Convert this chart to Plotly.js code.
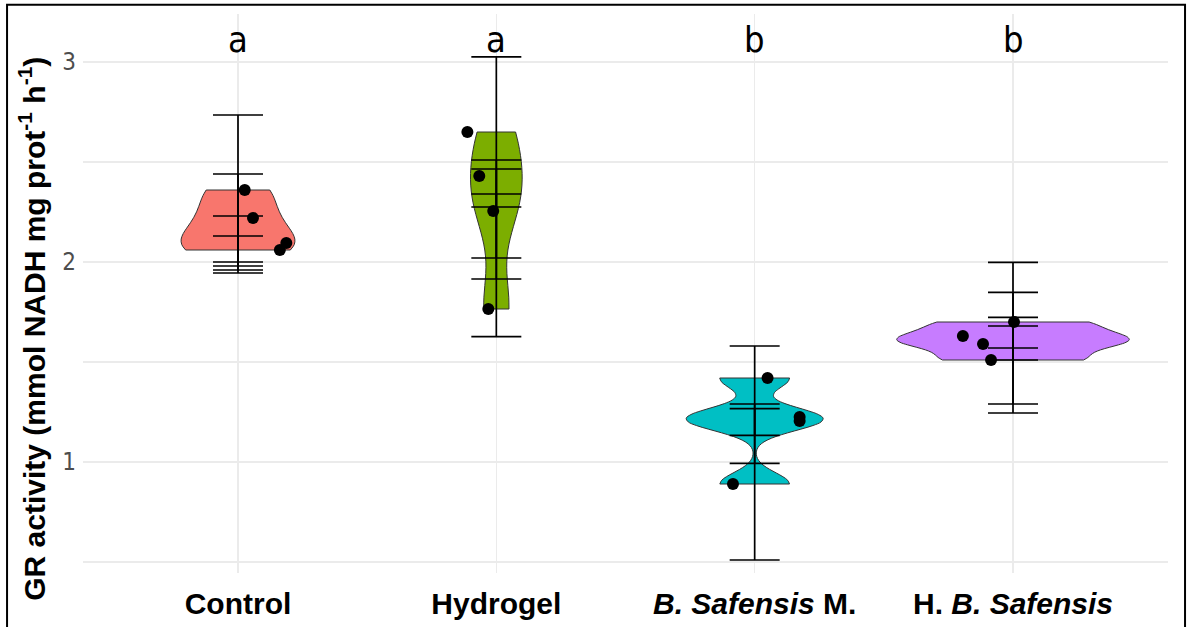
<!DOCTYPE html>
<html><head><meta charset="utf-8">
<script src="https://cdn.plot.ly/plotly-3.0.1.min.js"></script>
<style>html,body{margin:0;padding:0;background:#fff}#chart{width:1189px;height:627px}</style>
</head><body><div id="chart"></div>
<script>
// ---- data ----
const categories = ['Control', 'Hydrogel', 'B. Safensis M.', 'H. B. Safensis'];
const tickLabels = ['<b>Control</b>', '<b>Hydrogel</b>', '<b><i>B. Safensis</i> M.</b>', '<b>H. <i>B. Safensis</i></b>'];
const yTickValues = [1, 2, 3];
const yTickLabels = ['1', '2', '3'];
const groupLetters = ['a', 'a', 'b', 'b'];

const controlValues   = [2.36, 2.22, 2.06, 2.095];
const hydrogelValues  = [2.65, 2.43, 2.255, 1.765];
const safensisValues  = [1.42, 1.225, 1.205, 0.89];
const hSafensisValues = [1.70, 1.63, 1.59, 1.51];

// horizontal jitter of the dots (fraction of category spacing)
const controlJitter   = [0.026, 0.058, 0.162, 0.187];
const hydrogelJitter  = [-0.112, -0.066, -0.012, -0.031];
const safensisJitter  = [0.05, 0.174, 0.174, -0.084];
const hSafensisJitter = [0.004, -0.194, -0.116, -0.085];

// error-bar ends (upper / lower)
const controlBarUpper   = [2.735, 2.44, 2.23, 2.13];
const controlBarLower   = [1.945, 1.96, 1.98, 2.0];
const hydrogelBarUpper  = [3.026, 2.51, 2.465, 2.34];
const hydrogelBarLower  = [1.627, 1.915, 2.02, 2.275];
const safensisBarUpper  = [1.58, 1.29, 1.267];
const safensisBarLower  = [0.51, 0.993, 1.133];
const hSafensisBarUpper = [1.998, 1.848, 1.723, 1.68];
const hSafensisBarLower = [1.245, 1.29, 1.51, 1.57];

// ---- styles ----
const fills = ['#F8766D', '#7CAE00', '#00BFC4', '#C77CFF'];
const violinWidths = [0.44, 0.20, 0.53, 0.90];
const bwAdjust = [1, 1, 0.75, 1];
const narrow = '"Liberation Sans Narrow", "DejaVu Sans Condensed", "Arial Narrow", "Liberation Sans", sans-serif';

function quantile7(sorted, p) {
  const h = (sorted.length - 1) * p, lo = Math.floor(h), hi = Math.ceil(h);
  return sorted[lo] + (h - lo) * (sorted[hi] - sorted[lo]);
}
function nrd0(v) { // R's default bandwidth (as used by ggplot's geom_violin)
  const s = v.slice().sort((a, b) => a - b), n = v.length;
  const m = v.reduce((a, b) => a + b, 0) / n;
  const sd = Math.sqrt(v.reduce((a, b) => a + (b - m) * (b - m), 0) / (n - 1));
  const iqr = quantile7(s, 0.75) - quantile7(s, 0.25);
  return 0.9 * Math.min(sd, iqr / 1.34) * Math.pow(n, -0.2);
}

const groups = [
  {v: controlValues, j: controlJitter, up: controlBarUpper, lo: controlBarLower},
  {v: hydrogelValues, j: hydrogelJitter, up: hydrogelBarUpper, lo: hydrogelBarLower},
  {v: safensisValues, j: safensisJitter, up: safensisBarUpper, lo: safensisBarLower},
  {v: hSafensisValues, j: hSafensisJitter, up: hSafensisBarUpper, lo: hSafensisBarLower}
];

const traces = [];
groups.forEach((g, i) => {
  traces.push({
    type: 'violin', x0: i + 1, y: g.v, name: categories[i], orientation: 'v',
    width: violinWidths[i], bandwidth: nrd0(g.v) * bwAdjust[i], spanmode: 'hard',
    scalemode: 'width', points: false, box: {visible: false}, meanline: {visible: false},
    fillcolor: fills[i], line: {color: '#333333', width: 1}, opacity: 1,
    hoverinfo: 'skip', showlegend: false
  });
});
groups.forEach((g, i) => {
  traces.push({
    type: 'scatter', mode: 'markers', x: g.lo.map(() => i + 1), y: g.lo,
    marker: {size: 1, opacity: 0},
    error_y: {type: 'data', symmetric: false, array: g.up.map((u, k) => u - g.lo[k]),
              arrayminus: g.lo.map(() => 0), color: '#000', thickness: 1.7, width: 25},
    hoverinfo: 'skip', showlegend: false
  });
});
groups.forEach((g, i) => {
  traces.push({
    type: 'scatter', mode: 'markers', x: g.j.map(d => i + 1 + d), y: g.v,
    marker: {color: '#000', size: 12, symbol: 'circle'},
    hoverinfo: 'skip', showlegend: false
  });
});

const annotations = groupLetters.map((t, i) => ({
  x: i + 1, y: 3.115, xref: 'x', yref: 'y', text: t, showarrow: false,
  font: {family: narrow, size: 36, color: '#000'}, xanchor: 'center', yanchor: 'middle'
}));
annotations.push({
  x: -0.047, y: 0.437, xref: 'paper', yref: 'paper', textangle: -90, showarrow: false,
  xanchor: 'center', yanchor: 'middle',
  text: '<b>GR activity (mmol NADH mg prot<sup>-1</sup> h<sup>-1</sup>)</b>',
  font: {family: 'Liberation Sans, Arial, sans-serif', size: 30, color: '#000'}
});

const layout = {
  width: 1189, height: 627,
  margin: {l: 83, r: 21, t: 14, b: 54},
  paper_bgcolor: '#fff', plot_bgcolor: '#fff',
  violinmode: 'overlay',
  xaxis: {
    type: 'linear', range: [0.4, 4.6], tickmode: 'array', tickvals: [1, 2, 3, 4], ticktext: tickLabels,
    showgrid: true, gridcolor: '#ebebeb', gridwidth: 1.5, zeroline: false, showline: false, ticks: '',
    tickfont: {family: 'Liberation Sans, Arial, sans-serif', size: 30, color: '#000'}, ticklabelstandoff: 10
  },
  yaxis: {
    range: [0.445, 3.24], tickmode: 'array', tickvals: yTickValues, ticktext: yTickLabels,
    showgrid: true, gridcolor: '#ebebeb', gridwidth: 1.5, zeroline: false, showline: false, ticks: '',
    minor: {tickmode: 'array', tickvals: [0.5, 1.5, 2.5], showgrid: true, gridcolor: '#ebebeb', gridwidth: 1.5, ticks: ''},
    tickfont: {family: narrow, size: 24, color: '#4d4d4d'}, ticklabelstandoff: 6
  },
  annotations: annotations,
  shapes: [{type: 'rect', xref: 'paper', yref: 'paper', x0: -0.070, x1: 1.0157, y0: -0.2, y1: 1.0165,
            line: {color: '#000', width: 2}, fillcolor: 'rgba(0,0,0,0)', layer: 'above'}]
};

Plotly.newPlot('chart', traces, layout, {displayModeBar: false, staticPlot: true});
</script></body></html>
